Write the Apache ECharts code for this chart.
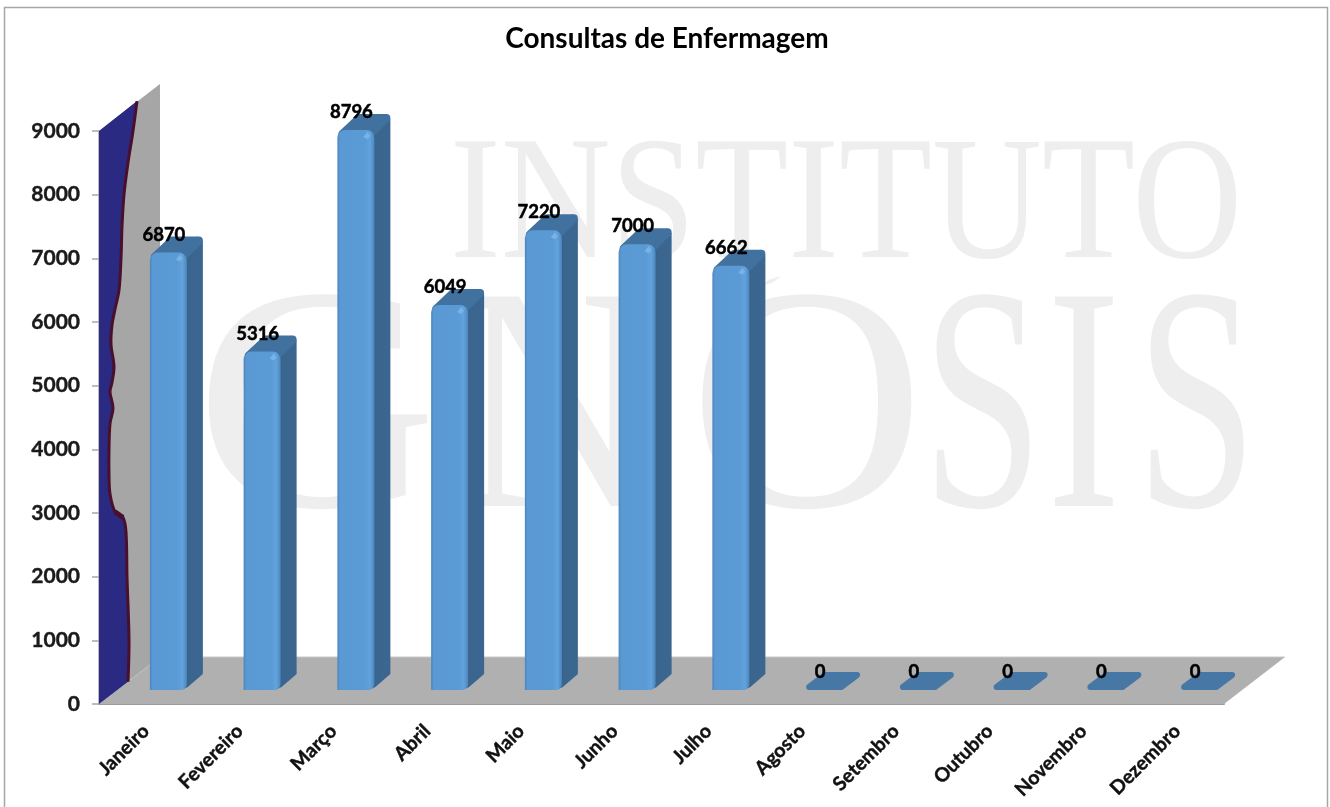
<!DOCTYPE html>
<html>
<head>
<meta charset="utf-8">
<style>html,body{margin:0;padding:0;background:#fff}#c{width:1330px;height:807px}</style>
<script src="https://cdn.jsdelivr.net/npm/echarts@6/dist/echarts.min.js"></script>
</head>
<body>
<div id="c"></div>
<script>
const titleText = 'Consultas de Enfermagem';
const months = ['Janeiro','Fevereiro','Março','Abril','Maio','Junho','Julho','Agosto','Setembro','Outubro','Novembro','Dezembro'];
const consultas = [6870,5316,8796,6049,7220,7000,6662,0,0,0,0,0];
const valueTicks = [0,1000,2000,3000,4000,5000,6000,7000,8000,9000];
const watermarkTop = 'INSTITUTO';
const watermarkLetters = ['G','N','O','S','I','S'];
const watermarkLetterX = [195,458,689,922,1047,1136];
const watermarkLetterScale = [1.05,0.84,1.02,0.68,0.69,0.68];
// decorative silhouette on the wall: [px right of the wall's front edge, axis value]
const wallContour = [[38,9470],[34,9000],[29,8500],[25,8000],[23,7500],[22,7000],[20,6500],[16,6200],[13,5950],[12,5650],[15,5300],[13,5050],[11,4900],[14,4650],[11,4400],[10,4000],[10,3600],[11,3300],[16,3020],[24,2930],[27,2700],[28,2000],[30,1000],[29,350]];

const FONT = 'Lato';
const WALL_DX = 61, WALL_DY = 47;
const BAR_DX = 16, BAR_DY = 16, FLOOR_DY = 14;
const BAR_W = 37, BAR_SHIFT = 4;

function renderBackdrop(params, api) {
  const half = api.size([1, 0])[0] / 2;
  const o = api.coord([0, 0]), t = api.coord([0, 9000]), e = api.coord([11, 0]);
  const x0 = o[0] - half, y0 = o[1], yT = t[1], x1 = e[0] + half;
  const contour = wallContour.map(p => [x0 + p[0], api.coord([0, p[1]])[1]]);
  return {
    type: 'group',
    children: [
      { type: 'polygon', shape: { points: [[x0, y0], [x0, yT], [x0 + WALL_DX, yT - WALL_DY], [x0 + WALL_DX, y0 - WALL_DY]] }, style: { fill: '#a6a6a6' } },
      { type: 'polygon', shape: { points: [[x0, y0], [x1, y0], [x1 + WALL_DX, y0 - WALL_DY], [x0 + WALL_DX, y0 - WALL_DY]] }, style: { fill: '#b0b0b0' } },
      { type: 'polyline', shape: { points: [[x0, y0], [x0 + WALL_DX, y0 - WALL_DY]] }, style: { stroke: '#bdbdbd', lineWidth: 1, fill: null } },
      { type: 'polyline', shape: { points: [[x0 + WALL_DX, y0 - WALL_DY], [x1 + WALL_DX, y0 - WALL_DY]] }, style: { stroke: '#c8c8c8', lineWidth: 1, fill: null } },
      { type: 'polygon', shape: { points: [[x0, yT]].concat(contour).concat([[x0, y0]]) }, style: { fill: '#2a2a82' } },
      { type: 'polyline', shape: { points: contour, smooth: 0.35 }, style: { stroke: '#4a0f2c', lineWidth: 3, fill: null } },
      { type: 'polyline', shape: { points: contour.slice(18, 20), smooth: 0.3 }, style: { stroke: '#4a0f2c', lineWidth: 5, fill: null } }
    ]
  };
}

function renderBar(params, api) {
  const v = api.value(1);
  const base = api.coord([api.value(0), 0]);
  const top = api.coord([api.value(0), v]);
  const x = base[0] + BAR_SHIFT;
  const yB = base[1] - FLOOR_DY;
  const yT = top[1] - FLOOR_DY;
  const xr = x + BAR_W;
  const label = {
    type: 'text', x: x + 14, y: yT - 18, z2: 10,
    style: { text: String(v), fill: '#000', stroke: '#000', lineWidth: 0.5, font: 'bold 18.5px ' + FONT, align: 'center', verticalAlign: 'middle' }
  };
  if (v === 0) {
    return { type: 'group', children: [
      { type: 'polygon', shape: { points: [[x + 3, yB - 3], [x + 19, yB - 15], [x + 51, yB - 15], [x + 35, yB - 3]] },
        style: { fill: '#4677a5', stroke: '#4677a5', lineWidth: 6, lineJoin: 'round' } },
      label
    ] };
  }
  return { type: 'group', children: [
    { type: 'polygon', shape: { points: [[xr - 6, yB], [xr + 1, yB - 3], [xr + BAR_DX, yB - BAR_DY], [xr + BAR_DX, yT - BAR_DY + 5], [xr + BAR_DX - 5, yT - BAR_DY], [xr - 6, yT]] },
      style: { fill: { type: 'linear', x: 0, y: 0, x2: 1, y2: 0, colorStops: [{ offset: 0, color: '#2f5c87' }, { offset: 0.35, color: '#3a658e' }, { offset: 1, color: '#3b668f' }] } } },
    { type: 'polygon', shape: { points: [[x + 5, yT + 4], [x + BAR_DX + 6, yT - BAR_DY + 4], [xr + BAR_DX - 4, yT - BAR_DY + 4], [xr - 4, yT + 4]] },
      style: { fill: '#41729f', stroke: '#41729f', lineWidth: 8, lineJoin: 'round' } },
    { type: 'rect', shape: { x: x, y: yT, width: BAR_W, height: yB - yT, r: [8, 8, 6, 0] },
      style: { fill: { type: 'linear', x: 0, y: 0, x2: 1, y2: 0, colorStops: [
        { offset: 0, color: '#4a85bc' }, { offset: 0.07, color: '#5a99d3' }, { offset: 0.75, color: '#5b9bd5' },
        { offset: 0.88, color: '#62a3dd' }, { offset: 1, color: '#4d87bd' }] } } },
    { type: 'polygon', shape: { points: [[xr - 11, yT + 7], [xr - 7, yT + 2], [xr - 4, yT + 6], [xr - 7, yT + 9]] }, style: { fill: '#79b2e6' } },
    label
  ] };
}

const letterGraphics = watermarkLetters.map((ch, i) => ({
  type: 'text', z: 1, silent: true, x: watermarkLetterX[i], y: 422, scaleX: watermarkLetterScale[i],
  style: { text: ch, fill: '#eeeeee', font: '320px "Liberation Serif"', align: 'left', verticalAlign: 'middle' }
}));

const chart = echarts.init(document.getElementById('c'), null, { renderer: 'canvas' });
chart.setOption({
  animation: false,
  backgroundColor: '#ffffff',
  title: {
    text: titleText, left: 662, top: 20, textAlign: 'center',
    textStyle: { fontFamily: FONT, fontWeight: 'bold', fontSize: 28, color: '#000' }
  },
  graphic: [
    { type: 'rect', z: 0, silent: true, shape: { x: 4.5, y: 7.5, width: 1323, height: 830 }, style: { fill: '#fff', stroke: '#a6a6a6', lineWidth: 1.5 } },
    { type: 'text', z: 1, silent: true, x: 450, y: 211, scaleX: 0.865, style: { text: watermarkTop, fill: '#eeeeee', font: '176px "Liberation Serif"', align: 'left', verticalAlign: 'middle' } },
    { type: 'polygon', z: 1, silent: true, shape: { points: [[781, 276], [772, 283], [761, 286], [768, 280]] }, style: { fill: '#eeeeee' } }
  ].concat(letterGraphics),
  grid: { left: 99, right: 106, top: 131, bottom: 103, containLabel: false },
  xAxis: {
    type: 'category', data: months, boundaryGap: true,
    axisTick: { show: false },
    axisLine: { show: true, lineStyle: { color: '#9a9a9a', width: 2 } },
    axisLabel: { rotate: 45, interval: 0, margin: 24, fontFamily: FONT, fontWeight: 'bold', fontSize: 19.5, color: '#111', textBorderColor: '#111', textBorderWidth: 0.4 }
  },
  yAxis: {
    type: 'value', min: 0, max: 9000, interval: 1000,
    axisLine: { show: true, lineStyle: { color: '#a6a6a6', width: 1.5 } },
    axisTick: { show: true, length: 7, lineStyle: { color: '#a6a6a6', width: 1.5 } },
    splitLine: { show: false },
    axisLabel: { margin: 19, fontFamily: FONT, fontWeight: 'bold', fontSize: 21, color: '#1a1a1a', textBorderColor: '#1a1a1a', textBorderWidth: 0.4,
      formatter: v => String(valueTicks[Math.round(v / 1000)]) }
  },
  series: [
    { type: 'custom', z: 2, silent: true, renderItem: renderBackdrop, data: [[0, 0]], encode: { x: 0, y: 1 }, clip: false },
    { type: 'custom', z: 3, renderItem: renderBar, data: consultas.map((v, i) => [i, v]), encode: { x: 0, y: 1 }, clip: false }
  ]
});
</script>
</body>
</html>
